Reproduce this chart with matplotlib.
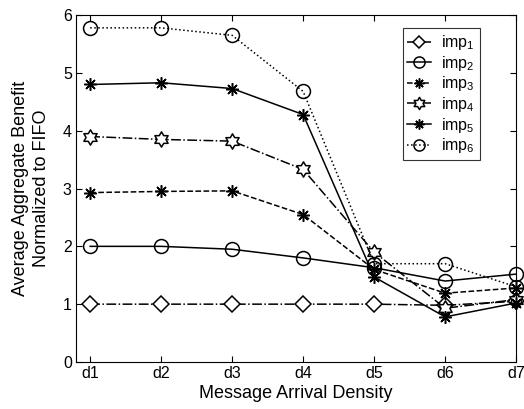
import matplotlib
matplotlib.use("Agg")
import matplotlib.pyplot as plt
from matplotlib.path import Path
import numpy as np

plt.rcParams['font.family'] = ['Liberation Sans', 'DejaVu Sans']
plt.rcParams['mathtext.fontset'] = 'custom'
plt.rcParams['mathtext.rm'] = 'Liberation Sans'
plt.rcParams['mathtext.it'] = 'Liberation Sans:italic'

densities = ["d1", "d2", "d3", "d4", "d5", "d6", "d7"]
imp1 = [1.0, 1.0, 1.0, 1.0, 1.0, 0.98, 1.05]
imp2 = [2.0, 2.0, 1.95, 1.8, 1.63, 1.40, 1.52]
imp3 = [2.93, 2.95, 2.96, 2.55, 1.60, 1.19, 1.28]
imp4 = [3.90, 3.85, 3.82, 3.33, 1.90, 0.93, 1.08]
imp5 = [4.80, 4.83, 4.73, 4.28, 1.47, 0.78, 1.02]
imp6 = [5.78, 5.78, 5.65, 4.68, 1.70, 1.70, 1.30]
labels = ["imp$_1$", "imp$_2$", "imp$_3$", "imp$_4$", "imp$_5$", "imp$_6$"]

# hexagram (star of David) marker
ang = np.pi / 2 + np.arange(12) * np.pi / 6
rad = np.where(np.arange(12) % 2 == 0, 1.0, 0.58)
verts = np.column_stack([rad * np.cos(ang), rad * np.sin(ang)])
verts = np.vstack([verts, verts[:1]])
hexagram = Path(verts, [Path.MOVETO] + [Path.LINETO] * 11 + [Path.CLOSEPOLY])

fig = plt.figure(figsize=(5.24, 4.09), dpi=100)
ax = fig.add_axes([0.145, 0.115, 0.84, 0.848])

x = np.arange(1, 8)
styles = [
    dict(ls="-.", marker="D", ms=8, mfc="white"),
    dict(ls="-", marker="o", ms=10, mfc="none"),
    dict(ls="--", marker=(8, 2, 0), ms=9),
    dict(ls="-.", marker=hexagram, ms=11, mfc="white"),
    dict(ls="-", marker=(8, 2, 0), ms=9),
    dict(ls=":", marker="o", ms=10, mfc="none"),
]
for ys, lab, st in zip([imp1, imp2, imp3, imp4, imp5, imp6], labels, styles):
    ax.plot(x, ys, color="black", lw=1.1, mec="black", mew=1.1, label=lab,
            clip_on=False, **st)

ax.set_xlim(0.8, 7)
ax.set_ylim(0, 6)
ax.set_xticks(x)
ax.set_xticklabels(densities)
ax.set_yticks(range(7))
ax.tick_params(direction="in", top=True, right=True, labelsize=11.5,
               length=4, pad=3)
ax.set_xlabel("Message Arrival Density", fontsize=13, labelpad=3)
ax.set_ylabel("Average Aggregate Benefit\nNormalized to FIFO", fontsize=13,
              labelpad=9, linespacing=1.3)

leg = ax.legend(loc="upper right", bbox_to_anchor=(0.935, 0.985), fontsize=11.5,
                frameon=True, fancybox=False, edgecolor="black",
                handlelength=1.5, markerscale=0.8, labelspacing=0.1,
                borderpad=0.3, handletextpad=0.6)
leg.get_frame().set_linewidth(0.8)

fig.savefig("out.png", dpi=100)
